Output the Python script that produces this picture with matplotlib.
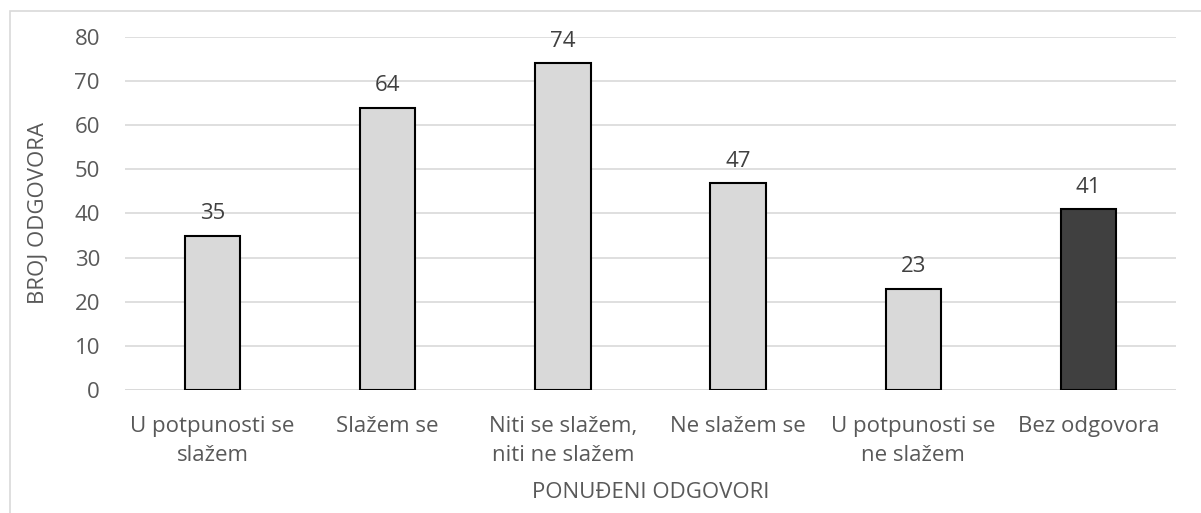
import matplotlib.pyplot as plt
from matplotlib.patches import Rectangle

categories = ["U potpunosti se\nslažem", "Slažem se", "Niti se slažem,\nniti ne slažem",
              "Ne slažem se", "U potpunosti se\nne slažem", "Bez odgovora"]
counts = [35, 64, 74, 47, 23, 41]
fills = ["#d9d9d9", "#d9d9d9", "#d9d9d9", "#d9d9d9", "#d9d9d9", "#404040"]
yticks = [0, 10, 20, 30, 40, 50, 60, 70, 80]

text_col = "#595959"
plt.rcParams['font.family'] = ['Open Sans', 'DejaVu Sans']
fs = 16

W, H = 1201, 513
fig = plt.figure(figsize=(W / 100, H / 100), dpi=100)
ax = fig.add_axes([125 / W, 1 - 390 / H, (1176 - 125) / W, (390 - 37) / H])

# thin frame round the chart area
fig.patches.append(Rectangle((10 / W, -0.1), 1.2, 1 - 11 / H + 0.1, transform=fig.transFigure,
                             fill=False, edgecolor="#d9d9d9", linewidth=1.2))

x = range(len(categories))
bars = ax.bar(x, counts, width=0.315, color=fills, edgecolor="black", linewidth=1.5, zorder=3)
for b, v in zip(bars, counts):
    ax.annotate(str(v), (b.get_x() + b.get_width() / 2, v), xytext=(0, 8),
                textcoords="offset points", ha="center", va="bottom",
                fontsize=fs, color="#404040")

ax.set_xlim(-0.5, len(categories) - 0.5)
ax.set_ylim(0, 80)
ax.set_yticks(yticks)
ax.yaxis.grid(True, color="#d9d9d9", linewidth=1.2, zorder=0)
for s in ax.spines.values():
    s.set_visible(False)
ax.axhline(0, color="#d9d9d9", linewidth=1.2, zorder=2)
ax.tick_params(length=0, labelsize=fs, colors=text_col)
ax.tick_params(axis="x", pad=19)
ax.tick_params(axis="y", pad=18)
ax.set_xticks(list(x))
ax.set_xticklabels(categories, linespacing=1.5)

ax.set_ylabel("BROJ ODGOVORA", fontsize=fs, color=text_col, labelpad=18)
ax.set_xlabel("PONUĐENI ODGOVORI", fontsize=fs, color=text_col, labelpad=11)

fig.savefig("out.png", dpi=100)
